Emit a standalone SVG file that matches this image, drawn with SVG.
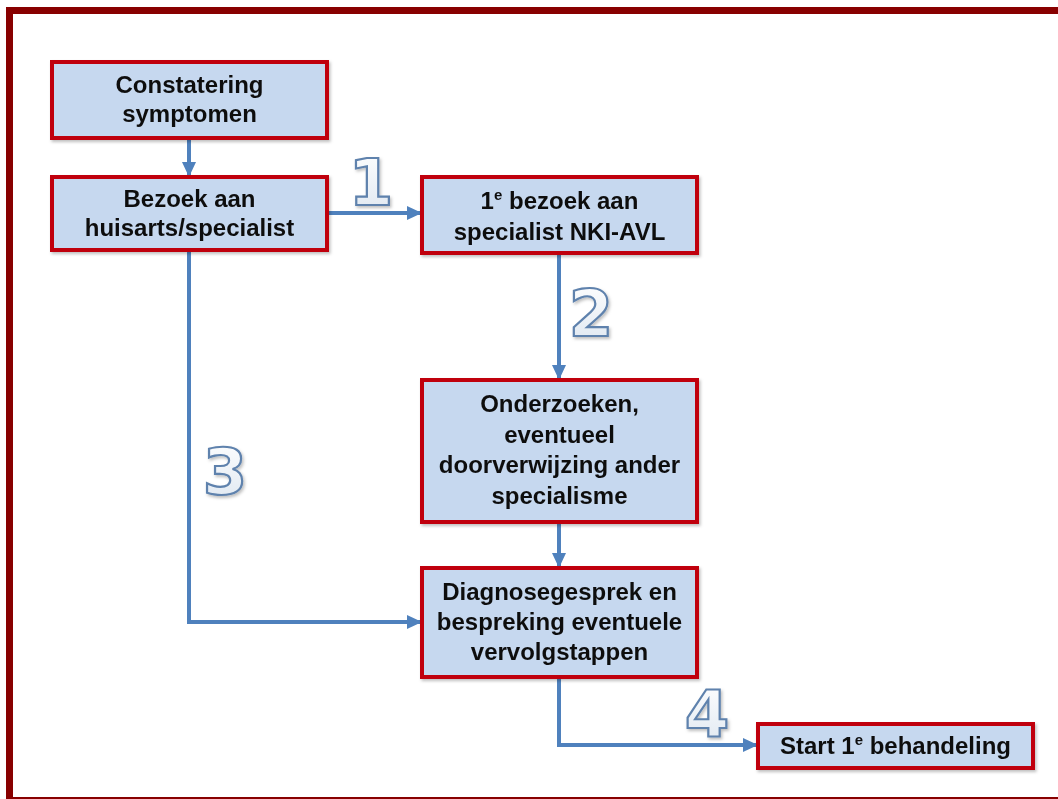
<svg xmlns="http://www.w3.org/2000/svg" width="1058" height="799" viewBox="0 0 1058 799">
<style>
.box{fill:#c6d8ef;stroke:#c0000c;stroke-width:4}
.t{font-family:"Liberation Sans",Arial,sans-serif;font-weight:bold;font-size:24px;fill:#111;text-anchor:middle}
.sup{font-size:15px}
.c{fill:none;stroke:#4f81bd;stroke-width:4}
.num{font-family:"DejaVu Sans",sans-serif;font-weight:bold;font-size:64px;fill:url(#ng);stroke:#5f82ad;stroke-width:2.2;text-anchor:middle}
</style>
<defs>
<marker id="ah" markerUnits="userSpaceOnUse" markerWidth="16" markerHeight="16" refX="14" refY="8" orient="auto">
<path d="M0,1 L15,8 L0,15 Z" fill="#4f81bd"/>
</marker>
<linearGradient id="ng" x1="0" y1="0" x2="0" y2="1">
<stop offset="0" stop-color="#ffffff"/>
<stop offset="1" stop-color="#dde6f0"/>
</linearGradient>
<filter id="sh" x="-10%" y="-10%" width="120%" height="130%">
<feDropShadow dx="1.5" dy="2" stdDeviation="1.5" flood-color="#000" flood-opacity="0.25"/>
</filter>
</defs>
<rect x="0" y="0" width="1058" height="799" fill="#fff"/>
<rect x="9.5" y="10.5" width="1060" height="790" fill="none" stroke="#880000" stroke-width="7"/>

<g id="connectors">
<path class="c" d="M189,139 V176" marker-end="url(#ah)"/>
<path class="c" d="M328,213 H421" marker-end="url(#ah)"/>
<path class="c" d="M559,254 V379" marker-end="url(#ah)"/>
<path class="c" d="M189,251 V622 H421" marker-end="url(#ah)"/>
<path class="c" d="M559,523 V567" marker-end="url(#ah)"/>
<path class="c" d="M559,678 V745 H757" marker-end="url(#ah)"/>
</g>

<g id="labels" filter="url(#sh)">
<text class="num" x="371" y="205">1</text>
<text class="num" x="591" y="336">2</text>
<text class="num" x="225" y="494">3</text>
<text class="num" x="707" y="737">4</text>
</g>

<g id="n1" filter="url(#sh)">
<rect class="box" x="52" y="62" width="275" height="76"/>
<text class="t" x="189.5" y="93">Constatering</text>
<text class="t" x="189.5" y="122">symptomen</text>
</g>
<g id="n2" filter="url(#sh)">
<rect class="box" x="52" y="177" width="275" height="73"/>
<text class="t" x="189.5" y="207">Bezoek aan</text>
<text class="t" x="189.5" y="236">huisarts/specialist</text>
</g>
<g id="n3" filter="url(#sh)">
<rect class="box" x="422" y="177" width="275" height="76"/>
<text class="t" x="559.5" y="209">1<tspan class="sup" dy="-9">e</tspan><tspan dy="9"> bezoek aan</tspan></text>
<text class="t" x="559.5" y="240">specialist NKI-AVL</text>
</g>
<g id="n4" filter="url(#sh)">
<rect class="box" x="422" y="380" width="275" height="142"/>
<text class="t" x="559.5" y="412">Onderzoeken,</text>
<text class="t" x="559.5" y="443">eventueel</text>
<text class="t" x="559.5" y="473">doorverwijzing ander</text>
<text class="t" x="559.5" y="504">specialisme</text>
</g>
<g id="n5" filter="url(#sh)">
<rect class="box" x="422" y="568" width="275" height="109"/>
<text class="t" x="559.5" y="600">Diagnosegesprek en</text>
<text class="t" x="559.5" y="630">bespreking eventuele</text>
<text class="t" x="559.5" y="660">vervolgstappen</text>
</g>
<g id="n6" filter="url(#sh)">
<rect class="box" x="758" y="724" width="275" height="44"/>
<text class="t" x="895.5" y="754">Start 1<tspan class="sup" dy="-9">e</tspan><tspan dy="9"> behandeling</tspan></text>
</g>
</svg>
